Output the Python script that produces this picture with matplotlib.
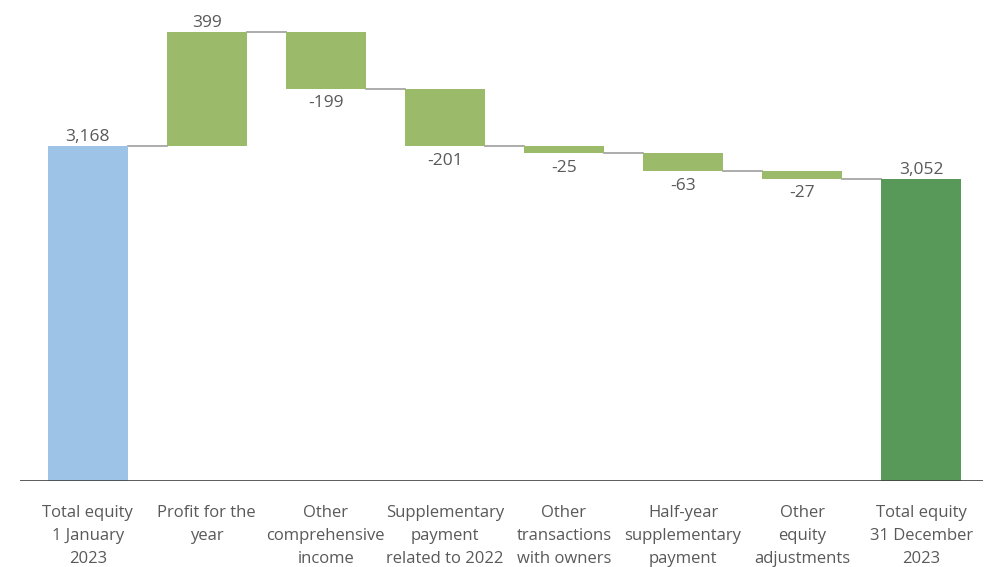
import matplotlib.pyplot as plt
import numpy as np

## data ##
categories = ["Total equity\n1 January\n2023", "Profit for the\nyear", "Other\ncomprehensive\nincome",
              "Supplementary\npayment\nrelated to 2022", "Other\ntransactions\nwith owners",
              "Half-year\nsupplementary\npayment", "Other\nequity\nadjustments",
              "Total equity\n31 December\n2023"]
values = [3168, 399, -199, -201, -25, -63, -27, 3052]
labels = ["3,168", "399", "-199", "-201", "-25", "-63", "-27", "3,052"]

## colors ##
c_start = '#9DC3E6'
c_step = '#9BBB6A'
c_end = '#58995A'
c_text = '#595959'

plt.rcParams['font.family'] = ['Open Sans', 'DejaVu Sans']

fig = plt.figure(figsize=(9.92, 5.67), dpi=100)
ax = fig.add_axes([0.020, 1 - 481 / 567, 0.971, 481 / 567])

x = np.arange(len(values))
width = 0.67
ymin = 1995

## compute bottoms and tops ##
bottoms = []
tops = []
running = 0
for i, v in enumerate(values):
    if i == 0 or i == len(values) - 1:
        bottoms.append(ymin)
        tops.append(v)
        running = v
    else:
        new = running + v
        bottoms.append(min(running, new))
        tops.append(max(running, new))
        running = new

colors = [c_start] + [c_step] * (len(values) - 2) + [c_end]
heights = [t - b for t, b in zip(tops, bottoms)]
ax.bar(x, heights, width, bottom=bottoms, color=colors, zorder=3)

## connectors ##
level = values[0]
for i in range(len(values) - 1):
    if 0 < i:
        level = level + values[i]
    ax.plot([x[i] + width / 2, x[i + 1] - width / 2], [level, level], color='#A6A6A6', lw=1.3, zorder=2)

## value labels ##
for i, v in enumerate(values):
    if v >= 0:
        ax.text(x[i], tops[i] + 3, labels[i], ha='center', va='bottom', fontsize=12.5, color=c_text)
    else:
        ax.text(x[i], bottoms[i] - 22, labels[i], ha='center', va='top', fontsize=12.5, color=c_text)

## category labels ##
for i, c in enumerate(categories):
    ax.text(x[i], ymin - 85, c, ha='center', va='top', fontsize=12, color=c_text, linespacing=1.58)

ax.axhline(ymin, color='#404040', lw=1.2, zorder=4)

ax.set_xlim(-0.57, 7.52)
ax.set_ylim(ymin, 3679)
ax.axis('off')

plt.savefig("out.png", dpi=100)
